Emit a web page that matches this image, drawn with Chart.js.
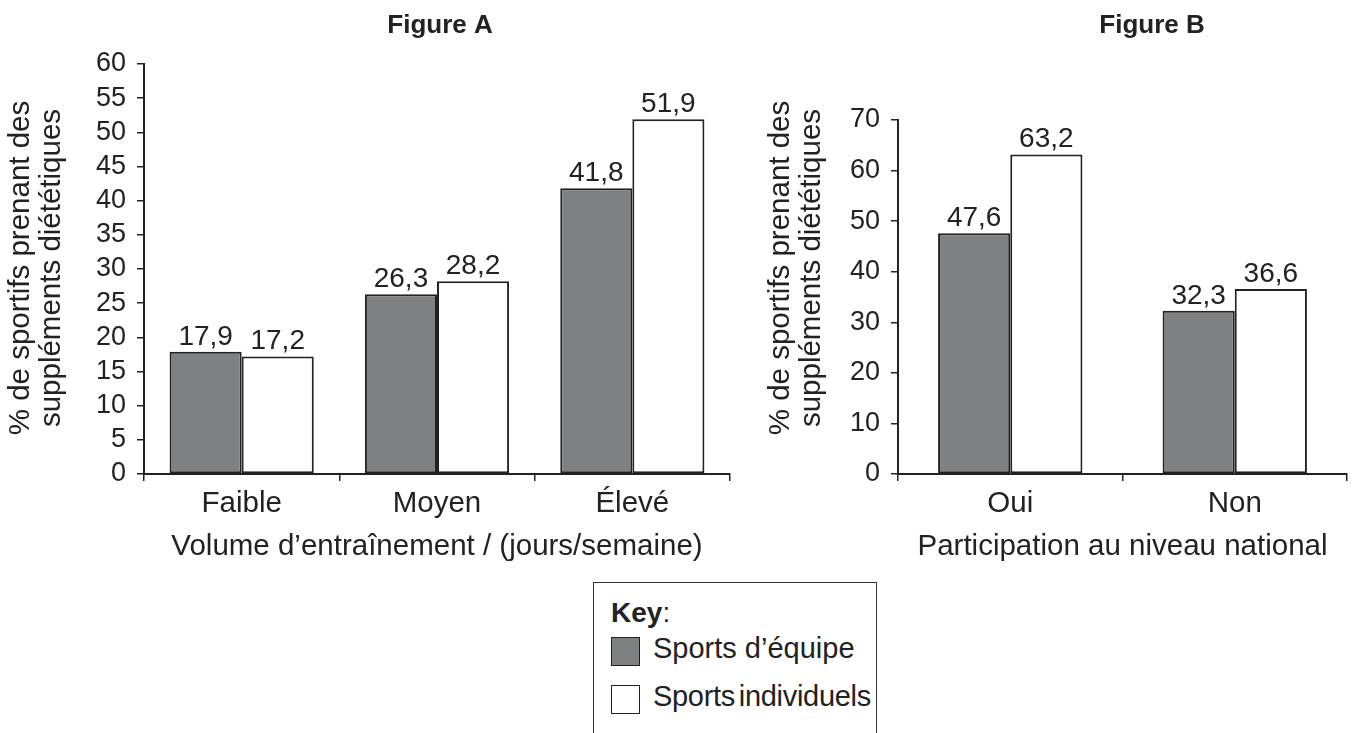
<!DOCTYPE html>
<html>
<head>
<meta charset="utf-8">
<script src="https://cdn.jsdelivr.net/npm/chart.js@4/dist/chart.umd.min.js"></script>
<style>
  body { margin: 0; background: #fff; width: 1357px; height: 733px; overflow: hidden; position: relative; font-family: 'Liberation Sans', Arial, sans-serif; color: #222; }
  #chartA { position: absolute; left: 0; top: 0; }
  #chartB { position: absolute; left: 760px; top: 0; }
  #key { position: absolute; left: 593px; top: 582px; width: 284px; height: 170px; border: 1.5px solid #333; box-sizing: border-box; }
  #key .ttl { position: absolute; left: 17px; top: 14px; font-size: 28px; }
  #key .sw { position: absolute; left: 17px; width: 29px; height: 29px; border: 1.5px solid #222; box-sizing: border-box; }
  #key .lbl { position: absolute; left: 59px; font-size: 29px; }
</style>
</head>
<body>
<canvas id="chartA" width="745" height="580"></canvas>
<canvas id="chartB" width="597" height="580"></canvas>
<div id="key">
  <div class="ttl"><b>Key</b>:</div>
  <div class="sw" style="top:54px; background:#7f8082;"></div>
  <div class="lbl" style="top:49px;">Sports d’équipe</div>
  <div class="sw" style="top:102px; background:#fff;"></div>
  <div class="lbl" style="top:97px; word-spacing:-4px; letter-spacing:-0.3px;">Sports individuels</div>
</div>
<script>
'use strict';

// data
var seriesNames = ['Sports d’équipe', 'Sports individuels'];
var yTitleLines = ['% de sportifs prenant des', 'suppléments diététiques'];

var labelsA = ['Faible', 'Moyen', 'Élevé'];
var equipeA = [17.9, 26.3, 41.8];
var indivA = [17.2, 28.2, 51.9];
var ticksA = { max: 60, step: 5 };

var labelsB = ['Oui', 'Non'];
var equipeB = [47.6, 32.3];
var indivB = [63.2, 36.6];
var ticksB = { max: 70, step: 10 };

var inkColor = '#222';
var grayFill = '#7f8082';

Chart.defaults.font.family = "'Liberation Sans', Arial, sans-serif";
Chart.defaults.color = inkColor;

// draws the figure title and the rotated y title
function textPlugin(title, titleX) {
  return {
    id: 'figText',
    afterDraw: function(chart) {
      var ctx = chart.ctx;
      ctx.save();
      ctx.fillStyle = inkColor;
      ctx.textAlign = 'center';
      ctx.textBaseline = 'middle';
      ctx.font = "bold 26px 'Liberation Sans', Arial, sans-serif";
      ctx.fillText(title, titleX, 26);

      ctx.font = "29.5px 'Liberation Sans', Arial, sans-serif";
      ctx.translate(0, 268);
      ctx.rotate(-Math.PI / 2);
      ctx.fillText(yTitleLines[0], 0, 21);
      ctx.fillText(yTitleLines[1], 0, 52);
      ctx.restore();
    }
  };
}

// value labels above the bars
var valuePlugin = {
  id: 'valueLabels',
  afterDatasetsDraw: function(chart) {
    var ctx = chart.ctx;
    ctx.save();
    ctx.fillStyle = inkColor;
    ctx.textAlign = 'center';
    ctx.textBaseline = 'alphabetic';
    ctx.font = "28px 'Liberation Sans', Arial, sans-serif";
    chart.data.datasets.forEach(function(ds, i) {
      chart.getDatasetMeta(i).data.forEach(function(bar, j) {
        ctx.fillText(String(ds.data[j]).replace('.', ','), bar.x, bar.y - 7);
      });
    });
    ctx.restore();
  }
};

function makeChart(id, labels, equipe, indiv, yt, catPct, xTitle, yWidth, padRight, padTop, title, titleX) {
  var ctx = document.getElementById(id).getContext('2d');
  return new Chart(ctx, {
    type: 'bar',
    data: {
      labels: labels,
      datasets: [{
        label: seriesNames[0],
        data: equipe,
        backgroundColor: grayFill,
        borderColor: inkColor,
        borderWidth: 2,
        borderSkipped: false
      }, {
        label: seriesNames[1],
        data: indiv,
        backgroundColor: '#fff',
        borderColor: inkColor,
        borderWidth: 2,
        borderSkipped: false
      }]
    },
    options: {
      responsive: false,
      animation: false,
      layout: { padding: { top: padTop, right: padRight, left: 0, bottom: 0 } },
      datasets: { bar: { barPercentage: 1, categoryPercentage: catPct } },
      plugins: { legend: { display: false }, tooltip: { enabled: false } },
      scales: {
        x: {
          grid: { display: true, drawOnChartArea: false, drawTicks: true, tickLength: 7, color: inkColor, lineWidth: 1.5, offset: true },
          border: { display: true, color: inkColor, width: 2 },
          ticks: { font: { size: 29.5 }, padding: 5, color: inkColor },
          title: { display: true, text: xTitle, font: { size: 29.5 }, color: inkColor, padding: { top: 0, bottom: 15 } },
          afterFit: function(scale) { scale.height = 106; }
        },
        y: {
          min: 0,
          max: yt.max,
          grid: { display: true, drawOnChartArea: false, drawTicks: true, tickLength: 7, color: inkColor, lineWidth: 1.5 },
          border: { display: true, color: inkColor, width: 2 },
          ticks: { stepSize: yt.step, autoSkip: false, font: { size: 27 }, padding: 11, color: inkColor },
          afterFit: function(scale) { scale.width = yWidth; }
        }
      }
    },
    plugins: [valuePlugin, textPlugin(title, titleX)]
  });
}

makeChart('chartA', labelsA, equipeA, indivA, ticksA, 0.738, 'Volume d’entraînement / (jours/semaine)', 144, 15, 64, 'Figure A', 440);
makeChart('chartB', labelsB, equipeB, indivB, ticksB, 0.643, 'Participation au niveau national', 138, 10, 120, 'Figure B', 392);
</script>
</body>
</html>
